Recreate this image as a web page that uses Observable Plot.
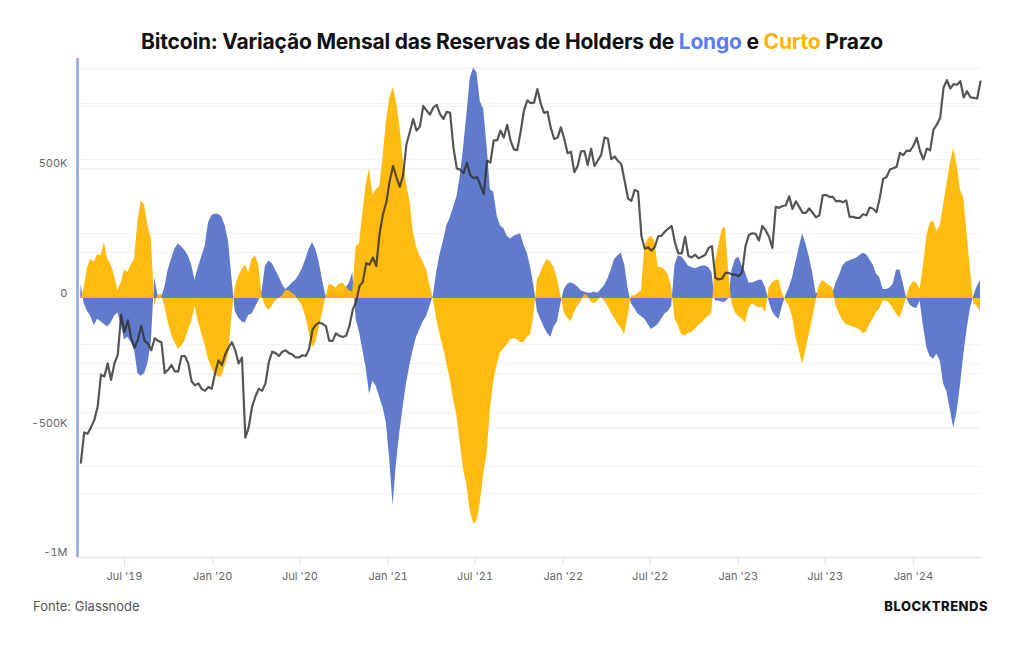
<!DOCTYPE html>
<html><head><meta charset="utf-8">
<script src="https://cdn.jsdelivr.net/npm/d3@7"></script>
<script src="https://cdn.jsdelivr.net/npm/@observablehq/plot@0.6"></script>
<style>
body{margin:0;background:#fff;font-family:Inter,"Noto Sans",sans-serif;}
#wrap{position:relative;width:1024px;height:645px;overflow:hidden;background:#fff;}
#title{position:absolute;top:29px;left:0;width:1024px;text-align:center;font-weight:700;font-size:21px;color:#111;letter-spacing:-0.2px;}
#title .l{color:#5b7cf7}
#title .c{color:#ffb300}
#chart,#price{position:absolute;left:0;top:0;}
#price{pointer-events:none}
#src{position:absolute;left:33px;top:598px;font-size:13px;color:#555}
#brand{position:absolute;right:36px;top:598px;font-size:13px;font-weight:800;letter-spacing:0.5px;color:#111}
</style>
</head><body>
<div id="wrap">
  <div id="title">Bitcoin: Variação Mensal das Reservas de Holders de <span class="l">Longo</span> e <span class="c">Curto</span> Prazo</div>
  <div id="chart"></div>
  <div id="price"></div>
  <div id="src">Fonte: Glassnode</div>
  <div id="brand">BLOCKTRENDS</div>
</div>
<script>
// Weekly samples starting Monday 2019-04-01
const startDate = "2019-04-01";
// Long-term holder monthly supply change (thousands BTC)
const lth = [55,-20,-50,-70,-105,-80,-90,-100,-110,-95,-70,-55,-100,-160,-150,-170,-200,-290,-300,-290,
-250,-170,80,10,5,40,110,150,190,210,200,185,165,130,70,120,160,200,290,320,
325,325,315,280,220,80,-50,-75,-90,-95,-65,-60,-35,-10,30,125,145,135,110,85,
55,35,45,60,70,90,115,150,190,215,190,140,70,10,20,25,20,15,20,40,
60,100,-80,-130,-200,-270,-370,-320,-340,-380,-420,-480,-620,-800,-640,-520,-420,-330,-260,-200,
-150,-120,-90,-70,-30,10,100,170,220,280,310,350,390,470,580,710,850,890,870,760,
730,590,420,410,320,280,270,240,230,240,245,250,205,175,120,45,-50,-80,-110,-135,
-150,-110,-90,-20,35,55,60,55,45,30,25,20,20,25,20,35,50,75,110,150,
165,175,130,40,-20,-40,-60,-70,-80,-100,-120,-110,-100,-80,-60,-50,-30,130,165,160,
145,125,120,115,120,125,125,120,100,-10,-10,-15,-15,0,110,150,160,125,100,60,
60,65,70,70,40,-10,-50,-70,-80,-30,10,40,80,140,195,250,210,160,100,20,
20,25,20,15,20,60,90,125,140,145,150,155,165,175,170,150,130,95,80,35,
35,40,55,110,110,60,0,-25,-35,-40,-10,-105,-190,-225,-235,-215,-240,-330,-360,-430,
-500,-440,-340,-220,-120,-40,10,45,70];
// Short-term holder monthly supply change (thousands BTC)
const sth = [-5,40,120,150,140,170,165,215,150,130,90,30,60,110,100,130,150,300,375,360,
280,230,-30,15,15,-30,-90,-140,-170,-195,-185,-165,-125,-90,-30,-90,-135,-180,-235,-270,
-290,-305,-300,-260,-220,-70,45,85,110,130,100,150,165,130,10,-30,-45,-30,-10,0,
10,30,30,20,10,-10,-30,-70,-130,-190,-170,-115,-55,5,55,50,40,55,60,45,
30,25,200,210,330,440,500,400,420,430,540,680,770,815,760,670,540,440,380,260,
200,165,140,110,50,0,-80,-140,-190,-250,-310,-390,-450,-560,-660,-720,-820,-870,-860,-790,
-680,-600,-430,-320,-260,-210,-195,-180,-160,-155,-160,-170,-170,-150,-140,-60,70,100,130,150,
140,120,75,10,-55,-75,-90,-55,-30,-15,15,10,-15,-20,-10,5,-10,-30,-55,-75,
-100,-115,-140,-70,10,10,20,30,200,230,240,220,120,120,110,90,45,-80,-105,-140,
-145,-135,-130,-120,-105,-95,-80,-70,-55,140,200,265,275,100,-20,-55,-70,-80,-95,-40,
-20,-30,-35,-35,-55,40,60,70,70,20,-10,-30,-70,-150,-200,-255,-200,-140,-80,-10,
50,70,60,50,40,-30,-60,-85,-100,-105,-110,-115,-120,-135,-130,-100,-80,-55,-40,-10,
-10,-20,-40,-60,-75,-40,5,45,65,60,35,125,240,290,300,260,280,360,440,520,
580,520,420,390,250,110,-20,-30,-50];
// Bitcoin price (USD), weekly
const price = [4150,5200,5150,5400,5700,6300,8000,7900,8700,7700,8700,9300,12500,11000,12000,10500,9800,10400,11500,10300,
10100,9600,10500,10300,10200,8100,8300,8600,8200,8200,9200,9200,8700,7600,7400,7500,7200,7100,7300,7200,
8100,8900,8600,9300,9800,10200,9600,8700,9100,5000,5400,6300,6800,7200,7100,7500,8800,9500,9400,9200,
9500,9600,9400,9300,9100,9100,9250,9200,9700,11200,11600,11800,11700,11500,10300,10300,10900,10700,10600,10700,
11500,13000,13800,15500,16000,18400,18200,19200,18000,23000,26500,29000,
34000,38000,35000,32500,35500,44800,49000,54000,49500,51000,59500,57500,55800,58800,60000,56000,54000,57000,56500,43500,
37300,37000,36000,39000,35500,34700,35000,33000,30800,39500,39000,46000,46000,49500,47000,51700,46000,43000,42800,49000,
57500,62000,60800,61000,67500,60500,56500,57000,50500,46500,46900,50700,
46500,41800,42300,36300,38000,42400,42500,38300,43200,38000,39600,41300,47000,46600,40000,40800,39500,38500,34000,29800,
29300,31800,31400,22500,20500,20700,20200,20800,22500,22600,23300,23800,24300,21400,19800,19800,22400,19400,19200,19600,
19100,19300,19600,20600,20900,16500,16300,16400,17100,17100,16900,16900,
16700,17200,20900,22700,23000,22900,21800,24300,23500,22400,20600,28000,27800,28200,28300,30300,27600,29200,28000,26800,
26800,27700,26800,25900,26300,30500,30600,30200,30200,29200,29300,29000,29400,26000,26000,25800,25800,26500,26300,27900,
27600,26900,30000,34500,35000,37000,37400,37800,41900,41200,42600,42500,
44200,46900,42500,39900,43300,42700,49900,51800,54500,68300,72100,67800,70000,69700,71600,63400,66400,63500,63200,62900,
71400];
const xTicks = ["2019-07-01","2020-01-01","2020-07-01","2021-01-01","2021-07-01","2022-01-01","2022-07-01","2023-01-01","2023-07-01","2024-01-01"];
const yTicks = [500000, 0, -500000, -1000000];
const yTickLabels = ["500K", "0", "-500K", "-1M"];
const gridMain = [500000, -500000];
const gridFaint = [888000, 753000, 741000, 537000, 251000, 178000, -178000, -251000, -290000, -440000, -649000, -753000];
const xDomain = ["2019-03-25", "2024-05-20"];
const yDomain = [-1000000, 911000];
const priceDomain = [2044, 82300];

const t0 = new Date(startDate + "T00:00:00Z").getTime();
const dates = lth.map((_, i) => new Date(t0 + i * 7 * 86400000));
const rowsL = lth.map((v, i) => ({date: dates[i], v: v * 1000}));
const rowsS = sth.map((v, i) => ({date: dates[i], v: v * 1000}));
const rowsP = price.map((v, i) => ({date: dates[i], p: v}));
const xd = xDomain.map(s => new Date(s + "T00:00:00Z"));
const xt = xTicks.map(s => new Date(s + "T00:00:00Z"));
const mon = d3.utcFormat("%b");
const yr = d3.utcFormat("%y");

const W = 1024, H = 600;
const common = {width: W, height: H, marginTop: 62, marginBottom: 43, marginLeft: 77, marginRight: 44};

const chart = Plot.plot({
  ...common,
  style: {fontFamily: "Inter, sans-serif", fontSize: "11px", background: "transparent"},
  x: {type: "utc", domain: xd, label: null},
  y: {domain: yDomain, label: null},
  marks: [
    Plot.ruleY(gridFaint, {stroke: "#f2f2f2", strokeWidth: 1}),
    Plot.ruleY(gridMain, {stroke: "#ececec", strokeWidth: 1}),
    Plot.ruleY([-1000000], {stroke: "#e2e2e2", strokeWidth: 1.5, insetRight: -2}),
    Plot.areaY(rowsL, {x: "date", y: "v", fill: "#5874c9", fillOpacity: 0.95}),
    Plot.areaY(rowsS, {x: "date", y: "v", fill: "#ffb703", fillOpacity: 0.95}),
    Plot.ruleX([xd[0]], {stroke: "#8fa3e3", strokeWidth: 2.5, insetTop: -4}),
    Plot.axisY(yTicks, {label: null, tickSize: 0, tickPadding: 10, dy: -5, fill: "#666", tickFormat: (d) => yTickLabels[yTicks.indexOf(d)]}),
    Plot.axisX(xt, {label: null, tickSize: 8, tickPadding: 7, stroke: "#e0e0e0", fill: "#666", tickFormat: (d) => `${mon(d)} '${yr(d)}`})
  ]
});
document.getElementById("chart").appendChild(chart);

const pchart = Plot.plot({
  ...common,
  style: {background: "transparent"},
  x: {type: "utc", domain: xd, axis: null},
  y: {type: "log", domain: priceDomain, axis: null},
  marks: [
    Plot.line(rowsP, {x: "date", y: "p", stroke: "#2f2f2f", strokeWidth: 2.2, strokeOpacity: 0.82})
  ]
});
document.getElementById("price").appendChild(pchart);
</script>
</body></html>
